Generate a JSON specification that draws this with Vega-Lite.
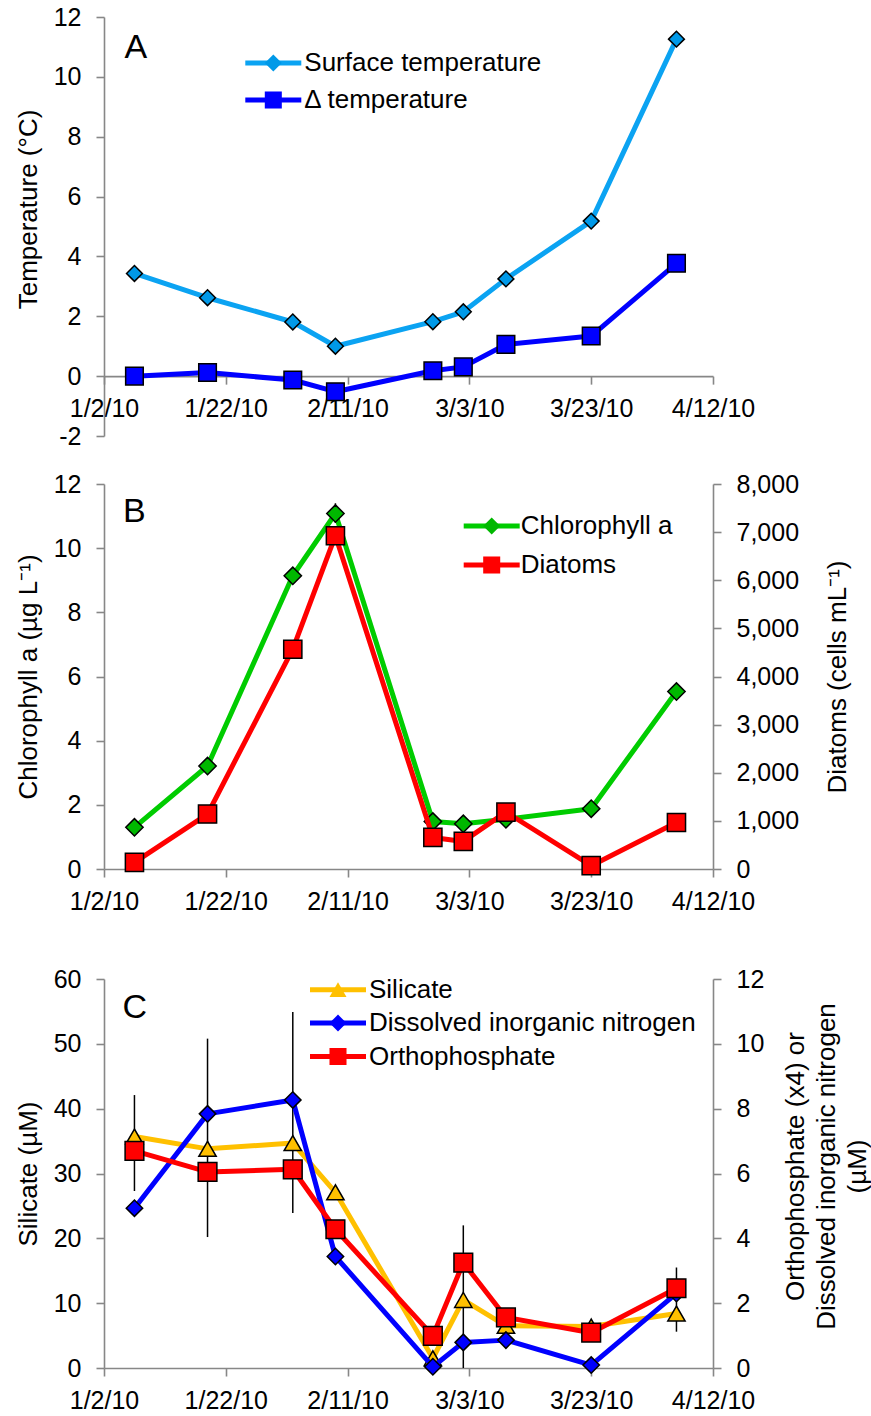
{
  "$schema": "https://vega.github.io/schema/vega-lite/v6.json",
  "padding": {"left": 15, "top": 5, "right": 5, "bottom": 5},
  "config": {
    "font": "Liberation Sans",
    "view": {"stroke": null},
    "axis": {
      "domainColor": "#878787", "domainWidth": 1.6,
      "tickColor": "#878787", "tickWidth": 1.6, "tickSize": 8,
      "labelFont": "Liberation Sans", "labelFontSize": 25, "labelColor": "#000000",
      "titleFont": "Liberation Sans", "titleFontSize": 26, "titleFontWeight": "normal", "titleColor": "#000000",
      "grid": false, "labelOverlap": false, "labelFlush": false, "labelBound": false
    },
    "axisX": {"labelPadding": 12, "labelAngle": 0, "titleFontSize": 34, "titleAngle": 0, "titleAlign": "left", "titleBaseline": "alphabetic"},
    "axisY": {"labelPadding": 15, "titlePadding": 12},
    "legend": {"labelFont": "Liberation Sans", "labelFontSize": 26, "labelColor": "#000000", "labelLimit": 600, "padding": 0}
  },
  "datasets": {
    "temperature": [
      {"date": "2010-01-07", "series": "Surface temperature", "value": 3.43},
      {"date": "2010-01-19", "series": "Surface temperature", "value": 2.62},
      {"date": "2010-02-02", "series": "Surface temperature", "value": 1.81},
      {"date": "2010-02-09", "series": "Surface temperature", "value": 1.0},
      {"date": "2010-02-25", "series": "Surface temperature", "value": 1.82},
      {"date": "2010-03-02", "series": "Surface temperature", "value": 2.15},
      {"date": "2010-03-09", "series": "Surface temperature", "value": 3.25},
      {"date": "2010-03-23", "series": "Surface temperature", "value": 5.18},
      {"date": "2010-04-06", "series": "Surface temperature", "value": 11.26},
      {"date": "2010-01-07", "series": "Δ temperature", "value": 0.0},
      {"date": "2010-01-19", "series": "Δ temperature", "value": 0.12},
      {"date": "2010-02-02", "series": "Δ temperature", "value": -0.13},
      {"date": "2010-02-09", "series": "Δ temperature", "value": -0.52},
      {"date": "2010-02-25", "series": "Δ temperature", "value": 0.18},
      {"date": "2010-03-02", "series": "Δ temperature", "value": 0.31},
      {"date": "2010-03-09", "series": "Δ temperature", "value": 1.06},
      {"date": "2010-03-23", "series": "Δ temperature", "value": 1.34},
      {"date": "2010-04-06", "series": "Δ temperature", "value": 3.77}
    ],
    "biology": [
      {"date": "2010-01-07", "series": "Chlorophyll a", "value": 1.3},
      {"date": "2010-01-19", "series": "Chlorophyll a", "value": 3.21},
      {"date": "2010-02-02", "series": "Chlorophyll a", "value": 9.14},
      {"date": "2010-02-09", "series": "Chlorophyll a", "value": 11.08, "low": 10.8, "high": 11.4},
      {"date": "2010-02-25", "series": "Chlorophyll a", "value": 1.48},
      {"date": "2010-03-02", "series": "Chlorophyll a", "value": 1.41},
      {"date": "2010-03-09", "series": "Chlorophyll a", "value": 1.55},
      {"date": "2010-03-23", "series": "Chlorophyll a", "value": 1.88},
      {"date": "2010-04-06", "series": "Chlorophyll a", "value": 5.53},
      {"date": "2010-01-07", "series": "Diatoms", "value": 137},
      {"date": "2010-01-19", "series": "Diatoms", "value": 1142},
      {"date": "2010-02-02", "series": "Diatoms", "value": 4567},
      {"date": "2010-02-09", "series": "Diatoms", "value": 6925},
      {"date": "2010-02-25", "series": "Diatoms", "value": 656},
      {"date": "2010-03-02", "series": "Diatoms", "value": 573},
      {"date": "2010-03-09", "series": "Diatoms", "value": 1183},
      {"date": "2010-03-23", "series": "Diatoms", "value": 69},
      {"date": "2010-04-06", "series": "Diatoms", "value": 967}
    ],
    "nutrients": [
      {"date": "2010-01-07", "series": "Silicate", "value": 35.7, "low": 27.3, "high": 42.1},
      {"date": "2010-01-19", "series": "Silicate", "value": 33.8, "low": 20.2, "high": 50.8},
      {"date": "2010-02-02", "series": "Silicate", "value": 34.7, "low": 23.9, "high": 54.9},
      {"date": "2010-02-09", "series": "Silicate", "value": 27.1},
      {"date": "2010-02-25", "series": "Silicate", "value": 1.5},
      {"date": "2010-03-02", "series": "Silicate", "value": 10.5, "low": 0, "high": 22.0},
      {"date": "2010-03-09", "series": "Silicate", "value": 6.5},
      {"date": "2010-03-23", "series": "Silicate", "value": 6.4},
      {"date": "2010-04-06", "series": "Silicate", "value": 8.4, "low": 5.6, "high": 15.5},
      {"date": "2010-01-07", "series": "Dissolved inorganic nitrogen", "value": 4.93},
      {"date": "2010-01-19", "series": "Dissolved inorganic nitrogen", "value": 7.84},
      {"date": "2010-02-02", "series": "Dissolved inorganic nitrogen", "value": 8.27},
      {"date": "2010-02-09", "series": "Dissolved inorganic nitrogen", "value": 3.44},
      {"date": "2010-02-25", "series": "Dissolved inorganic nitrogen", "value": 0.04},
      {"date": "2010-03-02", "series": "Dissolved inorganic nitrogen", "value": 0.79},
      {"date": "2010-03-09", "series": "Dissolved inorganic nitrogen", "value": 0.86},
      {"date": "2010-03-23", "series": "Dissolved inorganic nitrogen", "value": 0.09},
      {"date": "2010-04-06", "series": "Dissolved inorganic nitrogen", "value": 2.3},
      {"date": "2010-01-07", "series": "Orthophosphate", "value": 6.7},
      {"date": "2010-01-19", "series": "Orthophosphate", "value": 6.05},
      {"date": "2010-02-02", "series": "Orthophosphate", "value": 6.13},
      {"date": "2010-02-09", "series": "Orthophosphate", "value": 4.28},
      {"date": "2010-02-25", "series": "Orthophosphate", "value": 0.99},
      {"date": "2010-03-02", "series": "Orthophosphate", "value": 3.25},
      {"date": "2010-03-09", "series": "Orthophosphate", "value": 1.56},
      {"date": "2010-03-23", "series": "Orthophosphate", "value": 1.09},
      {"date": "2010-04-06", "series": "Orthophosphate", "value": 2.46}
    ]
  },
  "bounds": "flush",
  "spacing": 48,
  "resolve": {
    "scale": {"color": "independent", "fill": "independent", "shape": "independent"},
    "legend": {"color": "independent", "fill": "independent", "shape": "independent"}
  },
  "vconcat": [
    {
      "width": 609,
      "height": 419,
      "data": {"name": "temperature"},
      "encoding": {
        "x": {
          "field": "date", "type": "temporal",
          "scale": {"type": "utc", "domain": [{"year": 2010, "month": 1, "date": 2, "utc": true}, {"year": 2010, "month": 4, "date": 12, "utc": true}]},
          "axis": {
            "title": "A", "titleX": 20, "titleY": -318.8,
            "format": "%-m/%-d/%y", "offset": -59.86,
            "values": [
              {"year": 2010, "month": 1, "date": 2, "utc": true}, {"year": 2010, "month": 1, "date": 22, "utc": true},
              {"year": 2010, "month": 2, "date": 11, "utc": true}, {"year": 2010, "month": 3, "date": 3, "utc": true},
              {"year": 2010, "month": 3, "date": 23, "utc": true}, {"year": 2010, "month": 4, "date": 12, "utc": true}
            ]
          }
        },
        "y": {
          "field": "value", "type": "quantitative",
          "scale": {"domain": [-2, 12]},
          "axis": {"title": "Temperature (°C)", "values": [-2, 0, 2, 4, 6, 8, 10, 12], "titleY": 192, "labelExpr": "datum.value < 0 ? '-' + abs(datum.value) : datum.label"}
        }
      },
      "layer": [
        {
          "mark": {"type": "line", "strokeWidth": 5, "strokeJoin": "round"},
          "encoding": {
            "color": {
              "field": "series", "type": "nominal",
              "scale": {"domain": ["Surface temperature", "Δ temperature"], "range": ["#0BA3F2", "#0000FF"]},
              "legend": {"title": null, "orient": "none", "legendX": 156.3, "legendY": 33, "symbolType": "M-4,0H4", "symbolSize": 196, "symbolStrokeWidth": 5, "labelOffset": 18, "rowPadding": 11}
            }
          }
        },
        {
          "mark": {"type": "point", "filled": true, "opacity": 1, "stroke": "#000000", "strokeWidth": 1.5},
          "encoding": {
            "fill": {
              "field": "series", "type": "nominal",
              "scale": {"domain": ["Δ temperature", "Surface temperature"], "range": ["#0000FF", "#0099E8"]},
              "legend": {"title": null, "orient": "none", "legendX": 156.3, "legendY": 33, "values": ["Surface temperature", "Δ temperature"], "symbolSize": 290, "symbolStrokeColor": "#000000", "symbolStrokeWidth": 1.5, "labelExpr": "''", "rowPadding": 11}
            },
            "shape": {
              "field": "series", "type": "nominal",
              "scale": {"domain": ["Δ temperature", "Surface temperature"], "range": ["square", "diamond"]},
              "legend": {"title": null, "orient": "none", "legendX": 156.3, "legendY": 33, "values": ["Surface temperature", "Δ temperature"], "symbolSize": 290, "symbolStrokeColor": "#000000", "symbolStrokeWidth": 1.5, "labelExpr": "''", "rowPadding": 11}
            },
            "size": {"condition": {"test": "datum.series === 'Δ temperature'", "value": 310}, "value": 250}
          }
        }
      ]
    },
    {
      "bounds": "flush",
      "spacing": 110,
      "resolve": {
        "scale": {"color": "independent", "fill": "independent", "shape": "independent"},
        "legend": {"color": "independent", "fill": "independent", "shape": "independent"}
      },
      "vconcat": [
        {
          "width": 609,
          "height": 385,
          "data": {"name": "biology"},
          "encoding": {
            "x": {
              "field": "date", "type": "temporal",
              "scale": {"type": "utc", "domain": [{"year": 2010, "month": 1, "date": 2, "utc": true}, {"year": 2010, "month": 4, "date": 12, "utc": true}]},
              "axis": {
                "title": "B", "titleX": 18.5, "titleY": -347.3,
                "format": "%-m/%-d/%y",
                "values": [
                  {"year": 2010, "month": 1, "date": 2, "utc": true}, {"year": 2010, "month": 1, "date": 22, "utc": true},
                  {"year": 2010, "month": 2, "date": 11, "utc": true}, {"year": 2010, "month": 3, "date": 3, "utc": true},
                  {"year": 2010, "month": 3, "date": 23, "utc": true}, {"year": 2010, "month": 4, "date": 12, "utc": true}
                ]
              }
            }
          },
          "layer": [
            {
              "encoding": {
                "y": {
                  "field": "value", "type": "quantitative",
                  "scale": {"domain": [0, 12]},
                  "axis": {"title": "Chlorophyll a (µg L⁻¹)", "values": [0, 2, 4, 6, 8, 10, 12]}
                }
              },
              "layer": [
                {
                  "transform": [{"filter": "datum.series === 'Chlorophyll a' && isValid(datum.low)"}],
                  "mark": {"type": "rule", "color": "#000000", "strokeWidth": 1.5},
                  "encoding": {
                    "y": {"field": "low", "type": "quantitative", "axis": {"title": "Chlorophyll a (µg L⁻¹)", "values": [0, 2, 4, 6, 8, 10, 12]}},
                    "y2": {"field": "high"}
                  }
                },
                {
                  "transform": [{"filter": "datum.series === 'Chlorophyll a'"}],
                  "mark": {"type": "line", "strokeWidth": 5, "strokeJoin": "round"},
                  "encoding": {
                    "color": {
                      "field": "series", "type": "nominal",
                      "scale": {"domain": ["Chlorophyll a", "Diatoms"], "range": ["#00CC00", "#FF0000"]},
                      "legend": {"title": null, "orient": "none", "legendX": 374.7, "legendY": 29, "symbolType": "M-4,0H4", "symbolSize": 196, "symbolStrokeWidth": 5, "labelOffset": 16, "rowPadding": 13}
                    }
                  }
                },
                {
                  "transform": [{"filter": "datum.series === 'Chlorophyll a'"}],
                  "mark": {"type": "point", "filled": true, "opacity": 1, "stroke": "#000000", "strokeWidth": 1.5, "size": 300},
                  "encoding": {
                    "fill": {
                      "field": "series", "type": "nominal",
                      "scale": {"domain": ["Diatoms", "Chlorophyll a"], "range": ["#FF0000", "#00B800"]},
                      "legend": {"title": null, "orient": "none", "legendX": 374.7, "legendY": 29, "values": ["Chlorophyll a", "Diatoms"], "symbolSize": 290, "symbolStrokeColor": "#000000", "symbolStrokeWidth": 1.5, "labelExpr": "''", "rowPadding": 13}
                    },
                    "shape": {
                      "field": "series", "type": "nominal",
                      "scale": {"domain": ["Diatoms", "Chlorophyll a"], "range": ["square", "diamond"]},
                      "legend": {"title": null, "orient": "none", "legendX": 374.7, "legendY": 29, "values": ["Chlorophyll a", "Diatoms"], "symbolSize": 290, "symbolStrokeColor": "#000000", "symbolStrokeWidth": 1.5, "labelExpr": "''", "rowPadding": 13}
                    }
                  }
                }
              ]
            },
            {
              "transform": [{"filter": "datum.series === 'Diatoms'"}],
              "encoding": {
                "y": {
                  "field": "value", "type": "quantitative",
                  "scale": {"domain": [0, 8000]},
                  "axis": {"orient": "right", "title": "Diatoms (cells mL⁻¹)", "format": ",d", "values": [0, 1000, 2000, 3000, 4000, 5000, 6000, 7000, 8000], "titleAngle": 270, "titleBaseline": "top", "titlePadding": 26}
                }
              },
              "layer": [
                {
                  "mark": {"type": "line", "strokeWidth": 5, "strokeJoin": "round"},
                  "encoding": {"color": {"field": "series", "type": "nominal"}}
                },
                {
                  "mark": {"type": "point", "filled": true, "opacity": 1, "stroke": "#000000", "strokeWidth": 1.5, "size": 330},
                  "encoding": {
                    "fill": {"field": "series", "type": "nominal"},
                    "shape": {"field": "series", "type": "nominal"}
                  }
                }
              ]
            }
          ],
          "resolve": {"scale": {"y": "independent"}}
        },
        {
          "width": 609,
          "height": 389,
          "data": {"name": "nutrients"},
          "encoding": {
            "x": {
              "field": "date", "type": "temporal",
              "scale": {"type": "utc", "domain": [{"year": 2010, "month": 1, "date": 2, "utc": true}, {"year": 2010, "month": 4, "date": 12, "utc": true}]},
              "axis": {
                "title": "C", "titleX": 18, "titleY": -351,
                "format": "%-m/%-d/%y",
                "values": [
                  {"year": 2010, "month": 1, "date": 2, "utc": true}, {"year": 2010, "month": 1, "date": 22, "utc": true},
                  {"year": 2010, "month": 2, "date": 11, "utc": true}, {"year": 2010, "month": 3, "date": 3, "utc": true},
                  {"year": 2010, "month": 3, "date": 23, "utc": true}, {"year": 2010, "month": 4, "date": 12, "utc": true}
                ]
              }
            }
          },
          "layer": [
            {
              "encoding": {
                "y": {
                  "field": "value", "type": "quantitative",
                  "scale": {"domain": [0, 60]},
                  "axis": {"title": "Silicate (µM)", "values": [0, 10, 20, 30, 40, 50, 60]}
                }
              },
              "layer": [
                {
                  "transform": [{"filter": "datum.series === 'Silicate' && isValid(datum.low)"}],
                  "mark": {"type": "rule", "color": "#000000", "strokeWidth": 1.5},
                  "encoding": {
                    "y": {"field": "low", "type": "quantitative", "axis": {"title": "Silicate (µM)", "values": [0, 10, 20, 30, 40, 50, 60]}},
                    "y2": {"field": "high"}
                  }
                },
                {
                  "transform": [{"filter": "datum.series === 'Silicate'"}],
                  "mark": {"type": "line", "strokeWidth": 5, "strokeJoin": "round"},
                  "encoding": {
                    "color": {
                      "field": "series", "type": "nominal",
                      "scale": {"domain": ["Silicate", "Dissolved inorganic nitrogen", "Orthophosphate"], "range": ["#FFC000", "#0000FF", "#FF0000"]},
                      "legend": {"title": null, "orient": "none", "legendX": 221, "legendY": -2.3, "symbolType": "M-4,0H4", "symbolSize": 196, "symbolStrokeWidth": 5, "labelOffset": 18, "rowPadding": 7.4}
                    }
                  }
                },
                {
                  "transform": [{"filter": "datum.series === 'Silicate'"}],
                  "mark": {"type": "point", "filled": true, "opacity": 1, "stroke": "#000000", "strokeWidth": 1.5, "size": 300},
                  "encoding": {
                    "fill": {
                      "field": "series", "type": "nominal",
                      "scale": {"domain": ["Orthophosphate", "Dissolved inorganic nitrogen", "Silicate"], "range": ["#FF0000", "#0000FF", "#FFC000"]},
                      "legend": {"title": null, "orient": "none", "legendX": 221, "legendY": -2.3, "values": ["Silicate", "Dissolved inorganic nitrogen", "Orthophosphate"], "symbolSize": 290, "symbolStrokeColor": "#000000", "symbolStrokeWidth": 1.5, "labelExpr": "''", "rowPadding": 7.4}
                    },
                    "shape": {
                      "field": "series", "type": "nominal",
                      "scale": {"domain": ["Orthophosphate", "Dissolved inorganic nitrogen", "Silicate"], "range": ["square", "diamond", "triangle-up"]},
                      "legend": {"title": null, "orient": "none", "legendX": 221, "legendY": -2.3, "values": ["Silicate", "Dissolved inorganic nitrogen", "Orthophosphate"], "symbolSize": 290, "symbolStrokeColor": "#000000", "symbolStrokeWidth": 1.5, "labelExpr": "''", "rowPadding": 7.4}
                    }
                  }
                }
              ]
            },
            {
              "transform": [{"filter": "datum.series !== 'Silicate'"}],
              "encoding": {
                "y": {
                  "field": "value", "type": "quantitative",
                  "scale": {"domain": [0, 12]},
                  "axis": {"orient": "right", "title": ["Orthophosphate (x4) or", "Dissolved inorganic nitrogen", "(µM)"], "values": [0, 2, 4, 6, 8, 10, 12], "titleAngle": 270, "titleBaseline": "top", "titleX": 69, "titleY": 187, "titleLineHeight": 31}
                }
              },
              "layer": [
                {
                  "mark": {"type": "line", "strokeWidth": 5, "strokeJoin": "round"},
                  "encoding": {"color": {"field": "series", "type": "nominal"}}
                },
                {
                  "mark": {"type": "point", "filled": true, "opacity": 1, "stroke": "#000000", "strokeWidth": 1.5},
                  "encoding": {
                    "fill": {"field": "series", "type": "nominal"},
                    "shape": {"field": "series", "type": "nominal"},
                    "size": {"condition": {"test": "datum.series === 'Orthophosphate'", "value": 350}, "value": 270}
                  }
                }
              ]
            }
          ],
          "resolve": {"scale": {"y": "independent"}}
        }
      ]
    }
  ]
}
